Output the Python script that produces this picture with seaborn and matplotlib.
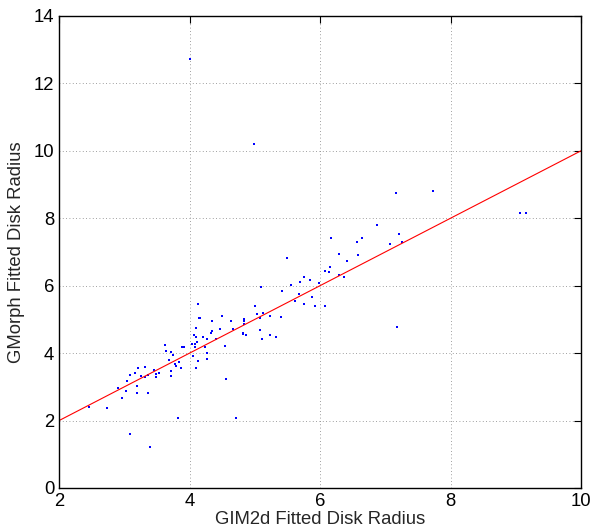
import matplotlib
matplotlib.use('Agg')
import matplotlib.pyplot as plt
import seaborn as sns
import pandas as pd

# GIM2d vs GMorph disk radius
gim2d = [2.46, 2.73, 3.09, 3.40, 3.83, 2.90, 2.96, 3.02, 3.04, 3.09,
         3.19, 3.20, 3.17, 3.21, 3.26, 3.31, 3.32, 3.36, 3.36, 3.46,
         3.49, 3.49, 3.53, 3.63, 3.64, 3.68, 3.72, 3.74, 3.77, 3.79,
         3.72, 3.71, 3.84, 3.87, 3.89, 3.92, 4.07, 4.10, 4.04, 4.08,
         4.12, 4.06, 4.10, 4.13, 4.09, 4.10, 4.13, 4.15, 4.16, 4.21,
         4.24, 4.26, 4.27, 4.27, 4.33, 4.35, 4.34, 4.40, 4.46, 4.49,
         4.54, 4.56, 4.63, 4.67, 4.82, 4.82, 4.84, 4.84, 4.84, 4.86,
         5.01, 5.04, 5.08, 5.09, 5.08, 5.11, 5.13, 5.23, 5.23, 5.33,
         5.40, 5.42, 5.56, 5.61, 5.67, 5.69, 5.49, 5.75, 5.76, 5.84,
         5.88, 5.93, 5.99, 6.08, 6.08, 6.14, 6.16, 6.17, 6.29, 6.29,
         6.37, 6.41, 6.57, 6.58, 6.64, 6.87, 7.08, 7.18, 7.21, 7.26,
         7.73, 9.06, 9.16, 4.00, 4.99, 7.16, 4.71]
gmorph = [2.40, 2.38, 1.60, 1.21, 2.08, 2.97, 2.67, 2.89, 3.17, 3.36,
          2.81, 3.03, 3.40, 3.57, 3.32, 3.60, 3.29, 2.83, 3.36, 3.51,
          3.39, 3.28, 3.42, 4.23, 4.06, 3.80, 4.03, 3.94, 3.67, 3.63,
          3.47, 3.31, 3.74, 3.57, 4.19, 4.19, 4.54, 4.48, 4.26, 4.28,
          4.32, 3.90, 3.55, 3.76, 4.18, 4.74, 5.46, 5.05, 5.04, 4.47,
          4.19, 3.99, 3.83, 4.42, 4.59, 4.65, 4.94, 4.42, 4.73, 5.09,
          4.22, 3.24, 4.95, 4.72, 4.61, 4.56, 5.01, 4.96, 4.86, 4.53,
          5.39, 5.16, 5.05, 5.96, 4.70, 4.42, 5.20, 5.11, 4.55, 4.48,
          5.07, 5.85, 6.01, 5.56, 5.74, 6.12, 6.82, 6.25, 5.46, 6.18,
          5.66, 5.40, 6.09, 6.43, 5.40, 6.42, 6.54, 7.42, 6.94, 6.31,
          6.26, 6.73, 7.31, 6.92, 7.42, 7.79, 7.25, 4.78, 7.53, 7.31,
          8.80, 8.15, 8.17, 12.73, 10.19, 8.75, 2.08]

# one-to-one line
line_x = [2, 10]
line_y = [2, 10]

df = pd.DataFrame({'gim2d': gim2d, 'gmorph': gmorph})

sns.set_style('white')
plt.rcParams['font.family'] = ['Liberation Sans', 'DejaVu Sans']

fig = plt.figure(figsize=(6.03, 5.31), dpi=100)
ax = fig.add_axes([0.098, 0.081, 0.8655, 0.889])

sns.scatterplot(data=df, x='gim2d', y='gmorph', ax=ax, color='blue',
                marker='s', s=4.5, linewidth=0)
sns.lineplot(x=line_x, y=line_y, ax=ax, color='red', linewidth=0.8)

ax.set_xlim(2, 10)
ax.set_ylim(0, 14)
ax.set_xticks([2, 4, 6, 8, 10])
ax.set_yticks([0, 2, 4, 6, 8, 10, 12, 14])
ax.grid(True, linestyle=(0, (1, 3)), color='#808080', linewidth=0.6)
ax.tick_params(direction='in', length=5, width=0.8, labelsize=13.3,
               top=True, right=True, colors='black')
for sp in ax.spines.values():
    sp.set_color('black')
    sp.set_linewidth(1.0)

ax.set_xlabel('GIM2d Fitted Disk Radius', fontsize=13.3, labelpad=1)
ax.set_ylabel('GMorph Fitted Disk Radius', fontsize=13.3, labelpad=6)

fig.savefig('out.png', dpi=100)
